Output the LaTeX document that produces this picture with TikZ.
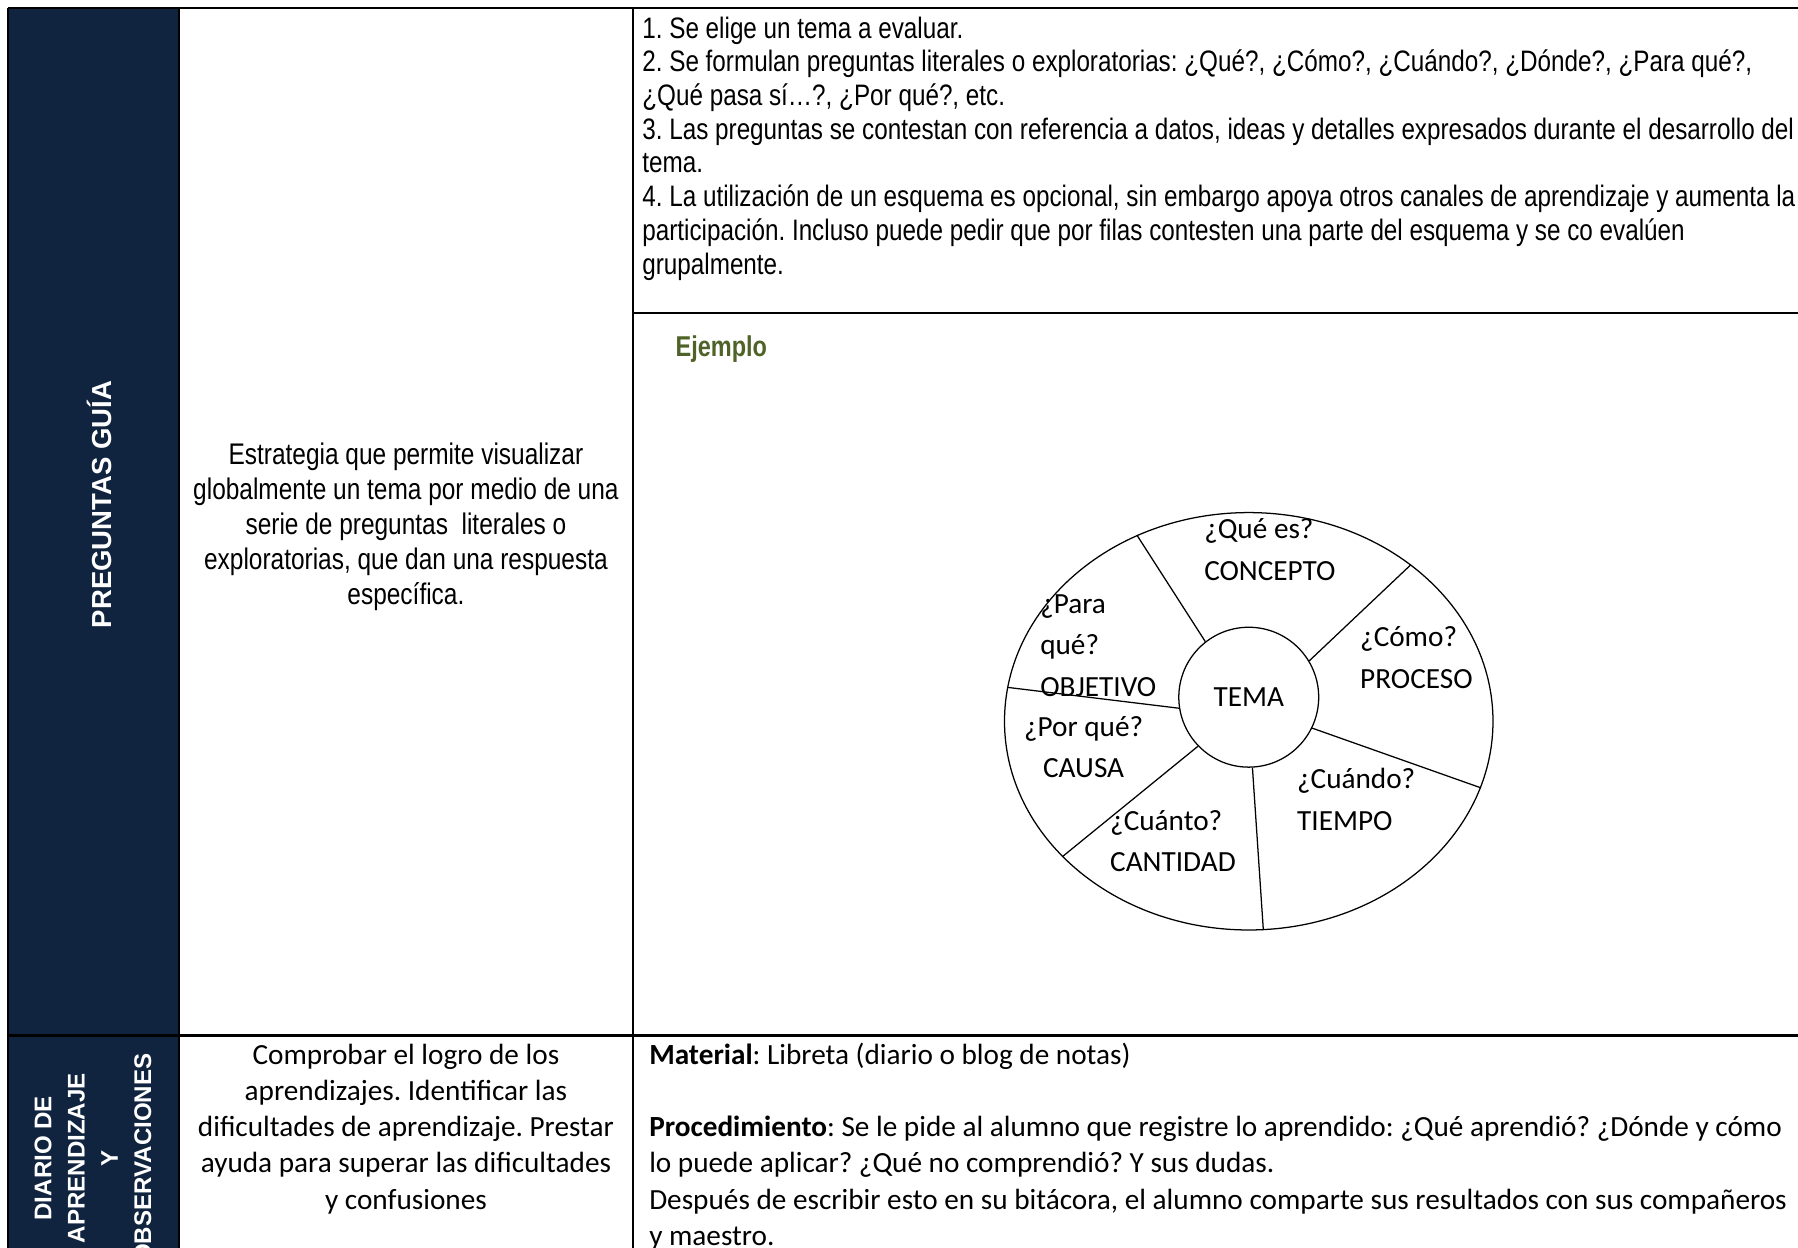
\documentclass[tikz,border=0pt]{standalone}
\usepackage{fontspec}
\setmainfont{Carlito}
\newfontfamily\narrow{Liberation Sans}[FakeStretch=0.82]
\newfontfamily\arialb{Liberation Sans}
\usetikzlibrary{shapes.geometric}
\definecolor{navy}{HTML}{10243F}
\definecolor{olive}{HTML}{4F6228}
\frenchspacing
\begin{document}
\begin{tikzpicture}[x=1pt,y=-1pt,
  grid/.style={line width=1.8pt},
  spoke/.style={line width=1.1pt},
  narrowtxt/.style={font=\narrow\fontsize{25.8}{29.4}\selectfont, inner sep=0pt},
  caltxt/.style={font=\fontsize{25.5}{31.6}\selectfont, inner sep=0pt},
  wheeltxt/.style={font=\fontsize{25.5}{36}\selectfont, inner sep=0pt, align=left, anchor=base west},
  headtxt/.style={font=\arialb\bfseries, text=white, inner sep=0pt, rotate=90}]
\useasboundingbox (0,0) rectangle (1568,1088);
% dark header column
\fill[navy] (7,7) rectangle (156,1100);
% table rules
\draw[line width=2.4pt] (7,7) -- (1580,7);
\draw[line width=2.4pt] (7,7) -- (7,1100);
\draw[grid] (156.5,7) -- (156.5,1100);
\draw[line width=1.6pt] (552,7) -- (552,1100);
\draw[grid] (552,273) -- (1580,273);
\draw[grid] (7,903) -- (1580,903);
% row 1 (multi-line nodes are anchored at the baseline of their last line)
\node[headtxt, font=\arialb\bfseries\fontsize{24}{28}\selectfont] (pg) at (87,440) {PREGUNTAS GUÍA};
\node[narrowtxt, font=\narrow\fontsize{26}{30.5}\selectfont, align=center, anchor=base] (desc1) at (354,527)
 {Estrategia que permite visualizar\\globalmente un tema por medio de una\\serie de preguntas~ literales o\\exploratorias, que dan una respuesta\\específica.};
\node[narrowtxt, align=left, anchor=base west] (steps) at (560,239)
 {1. Se elige un tema a evaluar.\\
  2. Se formulan preguntas literales o exploratorias: ¿Qué?, ¿Cómo?, ¿Cuándo?, ¿Dónde?, ¿Para qué?,\\
  ¿Qué pasa sí…?, ¿Por qué?, etc.\\
  3. Las preguntas se contestan con referencia a datos, ideas y detalles expresados durante el desarrollo del\\
  tema.\\
  4. La utilización de un esquema es opcional, sin embargo apoya otros canales de aprendizaje y aumenta la\\
  participación. Incluso puede pedir que por filas contesten una parte del esquema y se co evalúen\\
  grupalmente.};
\node[narrowtxt, font=\narrow\bfseries\fontsize{25}{28}\selectfont, text=olive, anchor=base west] (ejemplo) at (589,311) {Ejemplo};
% wheel
\node[ellipse, draw, line width=1.1pt, minimum width=426pt, minimum height=364pt, inner sep=0pt] (wheel) at (1089,629) {};
\node[circle, draw, line width=1.1pt, minimum size=122pt, inner sep=0pt, font=\fontsize{25.5}{30}\selectfont] (tema) at (1089,608) {TEMA};
\draw[spoke] (tema.128) -- (wheel.121);
\draw[spoke] (tema.31) -- (wheel.44.6);
\draw[spoke] (tema.-26) -- (wheel.-16);
\draw[spoke] (tema.-87) -- (wheel.-86.5);
\draw[spoke] (tema.224) -- (wheel.216);
\draw[spoke] (tema.189) -- (wheel.172.5);
\node[wheeltxt] (qes) at (1050,506) {¿Qué es?\\CONCEPTO};
\node[wheeltxt] (para) at (907,607) {¿Para\\qué?\\OBJETIVO};
\node[wheeltxt] (como) at (1186,600) {¿Cómo?\\PROCESO};
\node[wheeltxt, align=center, anchor=base] (porque) at (945,678) {¿Por qué?\\CAUSA};
\node[wheeltxt] (cuando) at (1131,724) {¿Cuándo?\\TIEMPO};
\node[wheeltxt] (cuanto) at (968,760) {¿Cuánto?\\CANTIDAD};
% row 2
\node[headtxt, font=\arialb\bfseries\fontsize{21}{29}\selectfont, align=center] (diario) at (81,1010) {DIARIO DE\\APRENDIZAJE\\Y\\OBSERVACIONES};
\node[caltxt, align=center, anchor=base] (desc2) at (354,1054.4)
 {Comprobar el logro de los\\aprendizajes. Identificar las\\dificultades de aprendizaje. Prestar\\ayuda para superar las dificultades\\y confusiones};
\node[caltxt, align=left, anchor=base west] (proc) at (566,1086)
 {\textbf{Material}: Libreta (diario o blog de notas)\\[31.6pt]
  \textbf{Procedimiento}: Se le pide al alumno que registre lo aprendido: ¿Qué aprendió? ¿Dónde y cómo\\
  lo puede aplicar? ¿Qué no comprendió? Y sus dudas.\\
  Después de escribir esto en su bitácora, el alumno comparte sus resultados con sus compañeros\\
  y maestro.};
\end{tikzpicture}
\end{document}
